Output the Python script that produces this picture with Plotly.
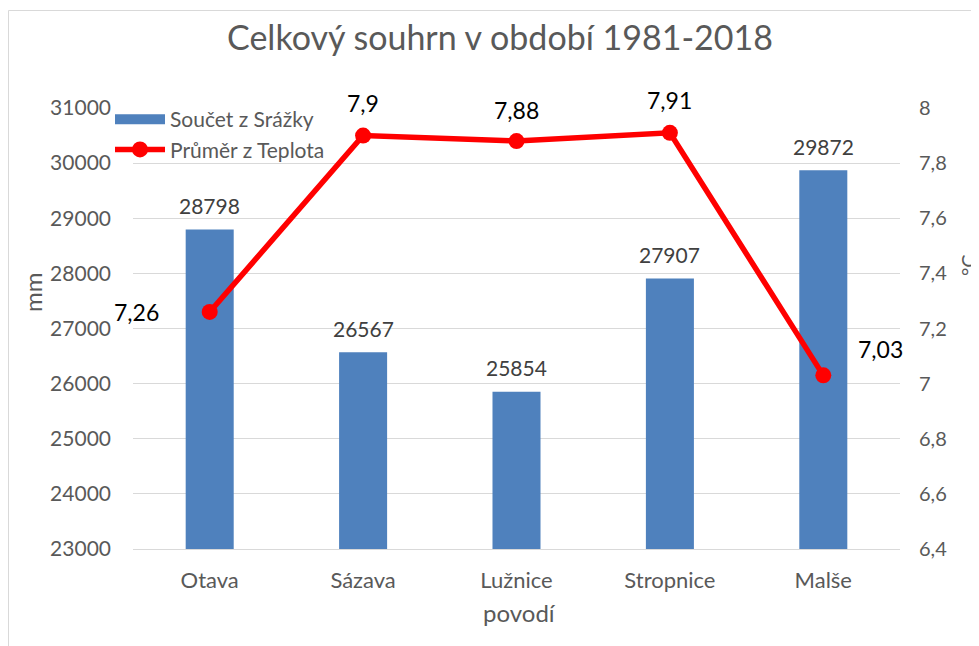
import plotly.graph_objects as go

categories = ["Otava", "Sázava", "Lužnice", "Stropnice", "Malše"]
srazky = [28798, 26567, 25854, 27907, 29872]
teplota = [7.26, 7.9, 7.88, 7.91, 7.03]
left_ticks = [23000, 24000, 25000, 26000, 27000, 28000, 29000, 30000, 31000]
right_ticks = [6.4, 6.6, 6.8, 7.0, 7.2, 7.4, 7.6, 7.8, 8.0]

FONT = "Lato"
GRAY = "#595959"
BLUE = "#4F81BD"
RED = "#FF0000"

# page body has an 8px default margin; figure coords = screen coords - 8
W, H = 979, 646
L, R, T, B = 125, 87, 100, 105
PW, PH = W - L - R, H - T - B


def fmt(v):
    return ("%g" % v).replace(".", ",")


def px(xs):  # screen x -> paper x
    return (xs - 8 - L) / PW


def py(ys):  # screen y -> paper y
    return (H - B - (ys - 8)) / PH


fig = go.Figure()
fig.add_trace(go.Bar(
    x=categories, y=srazky, name="Součet z Srážky",
    marker=dict(color=BLUE, line=dict(width=0)),
    yaxis="y", showlegend=False, legendgroup="s",
))
# legend swatch for the bars (wide rectangle like the original)
fig.add_trace(go.Scatter(
    x=[None], y=[None], name="Součet z Srážky", mode="lines",
    line=dict(color=BLUE, width=14), legendgroup="s", showlegend=True,
))
fig.add_trace(go.Scatter(
    x=categories, y=teplota, name="Průměr z Teplota",
    mode="lines+markers",
    line=dict(color=RED, width=5.5),
    marker=dict(color=RED, size=16),
    yaxis="y2",
))

annotations = []
for c, v in zip(categories, srazky):
    annotations.append(dict(x=c, y=v, xref="x", yref="y", text=str(v),
                            showarrow=False, yshift=24,
                            font=dict(family=FONT, size=21, color="#404040")))
shifts = [(-73, 0), (0, 33), (0, 31), (0, 33), (57, 26)]
for c, v, (dx, dy) in zip(categories, teplota, shifts):
    annotations.append(dict(x=c, y=v, xref="x", yref="y2", text=fmt(v),
                            showarrow=False, xshift=dx, yshift=dy,
                            font=dict(family=FONT, size=23, color="#000000")))
# axis titles
annotations.append(dict(x=px(32), y=py(293), xref="paper", yref="paper", text="mm",
                        showarrow=False, textangle=-90, xanchor="center", yanchor="middle",
                        font=dict(family=FONT, size=24, color=GRAY)))
annotations.append(dict(x=px(968), y=py(265), xref="paper", yref="paper", text="°C",
                        showarrow=False, textangle=-90, xanchor="center", yanchor="middle",
                        font=dict(family=FONT, size=20, color=GRAY)))
annotations.append(dict(x=px(519), y=py(612), xref="paper", yref="paper", text="povodí",
                        showarrow=False, xanchor="center", yanchor="middle",
                        font=dict(family=FONT, size=24, color=GRAY)))

fig.update_layout(
    template="none",
    width=W, height=H,
    margin=dict(l=L, r=R, t=T, b=B, autoexpand=False),
    paper_bgcolor="white", plot_bgcolor="white",
    separators=",.",
    font=dict(family=FONT, color=GRAY, size=20),
    title=dict(text="Celkový souhrn v období 1981-2018", x=(500 - 8) / W, xanchor="center",
               xref="container", yref="container",
               y=1 - (38 - 8) / H, yanchor="middle",
               font=dict(family=FONT, size=34, color=GRAY)),
    bargap=0.687,
    showlegend=True,
    legend=dict(x=px(110), y=py(99), xanchor="left", yanchor="top",
                bgcolor="rgba(255,255,255,0)", borderwidth=0,
                font=dict(family=FONT, size=21, color=GRAY),
                tracegroupgap=0, itemwidth=50),
    xaxis=dict(range=[-0.5, len(categories) - 0.5], showgrid=False, showline=True,
               linecolor="#D9D9D9", linewidth=1,
               ticks="", automargin=False, ticklabelstandoff=12,
               tickfont=dict(family=FONT, size=22, color=GRAY)),
    yaxis=dict(range=[23000, 31000], tickvals=left_ticks, tickformat="d",
               showgrid=True, gridcolor="#D9D9D9", gridwidth=1, zeroline=False,
               showline=False, ticks="", automargin=False, ticklabelstandoff=21,
               tickfont=dict(family=FONT, size=21, color=GRAY)),
    yaxis2=dict(range=[6.4, 8.0], tickvals=right_ticks, ticktext=[fmt(t) for t in right_ticks],
                overlaying="y", side="right", showgrid=False, zeroline=False,
                showline=False, ticks="", automargin=False, ticklabelstandoff=18,
                tickfont=dict(family=FONT, size=20, color=GRAY)),
    annotations=annotations,
    shapes=[
        dict(type="line", xref="paper", yref="paper",
             x0=px(8.5), x1=px(8.5), y0=py(646), y1=py(10.5),
             line=dict(color="#D9D9D9", width=1), layer="below"),
        dict(type="line", xref="paper", yref="paper",
             x0=px(8.5), x1=px(990), y0=py(10.5), y1=py(10.5),
             line=dict(color="#D9D9D9", width=1), layer="below"),
    ],
)

fig.write_html("out.html")
